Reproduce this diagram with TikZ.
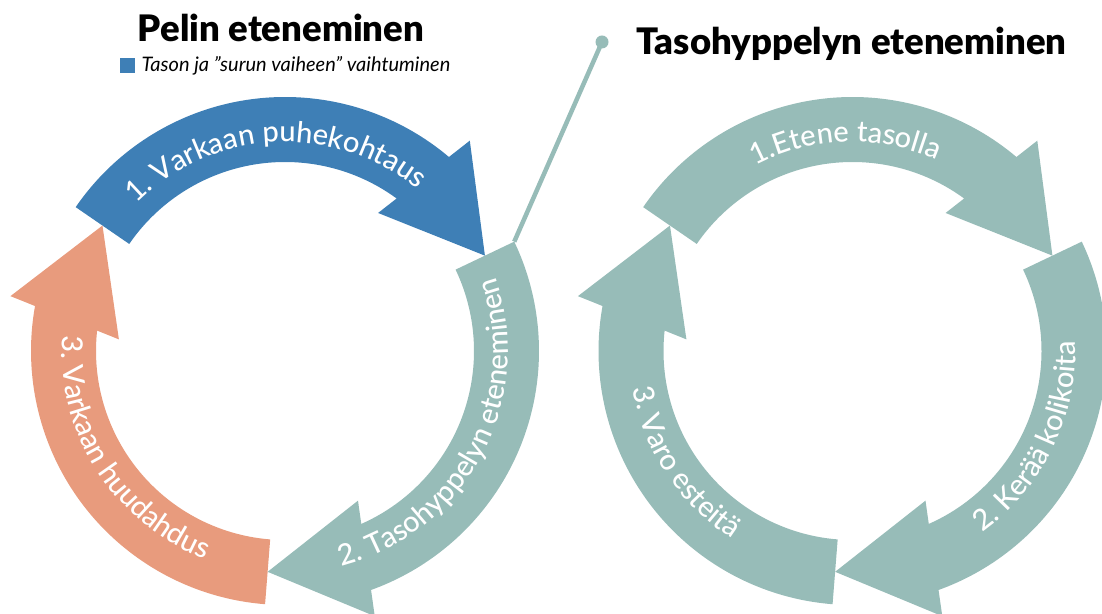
\documentclass[tikz,border=0pt]{standalone}
\usepackage{fontspec}
\setmainfont{Lato}
\newfontfamily\titlefont{Lato Black}
\newfontfamily\bandfont{Lato Medium}
\usetikzlibrary{positioning,decorations.text}

\definecolor{stepblue}{HTML}{3E7FB6}
\definecolor{stepteal}{HTML}{97BCB8}
\definecolor{stepsalmon}{HTML}{E89B7D}

\tikzset{
  bandtext/.style={decorate, decoration={text along path, text align=center,
      text color=white, text={|\bandfont\fontsize{29}{31}\selectfont|#1}}},
  titletext/.style={anchor=base, font=\titlefont\fontsize{36.5}{40}\selectfont},
}

\begin{document}
\begin{tikzpicture}[x=1pt, y=1pt]
\useasboundingbox (0,0) rectangle (1102,613);
\clip (0,0) rectangle (1102,613);

\node[titletext] (title1) at (281,571) {Pelin eteneminen};
\node[titletext] (title2) at (851.5,558) {Tasohyppelyn eteneminen};

\node[fill=stepblue, minimum size=15pt, inner sep=0pt] (key) at (127.5,547) {};
\node[right=3pt of key, font=\itshape\fontsize{20}{22}\selectfont] (keytext) {Tason ja ”surun vaiheen” vaihtuminen};

% left cycle
\begin{scope}[shift={(285,262)}]
\foreach \t/\col in {25.5/stepblue, -94.5/stepteal, 145.5/stepsalmon}
  \fill[\col] ({\t+120}:254) arc[start angle={\t+120}, end angle={\t+24.3}, radius=254pt]
    -- ({\t+23.2}:280) -- (\t:221.5) -- ({\t+30.5}:166.5) -- ({\t+28.3}:189)
    arc[start angle={\t+28.3}, end angle={\t+120}, radius=189pt] -- cycle;
\coordinate (tail2) at (25.5:254);
\path[bandtext={1. Varkaan puhekohtaus}] (163:209) arc[start angle=163, end angle=23, radius=209pt];
\path[bandtext={2. Tasohyppelyn eteneminen}] (-98:223) arc[start angle=-98, end angle=42, radius=223pt];
\path[bandtext={3. Varkaan huudahdus}] (142.5:223) arc[start angle=142.5, end angle=282.5, radius=223pt];
\end{scope}

% right cycle
\begin{scope}[shift={(852.5,262)}]
\foreach \t in {25.5, -94.5, 145.5}
  \fill[stepteal] ({\t+120}:254) arc[start angle={\t+120}, end angle={\t+24.3}, radius=254pt]
    -- ({\t+23.2}:280) -- (\t:221.5) -- ({\t+30.5}:166.5) -- ({\t+28.3}:189)
    arc[start angle={\t+28.3}, end angle={\t+120}, radius=189pt] -- cycle;
\path[bandtext={1.Etene tasolla}] (162:209) arc[start angle=162, end angle=22, radius=209pt];
\path[bandtext={2. Kerää kolikoita}] (-96:223) arc[start angle=-96, end angle=44, radius=223pt];
\path[bandtext={3. Varo esteitä}] (143.5:223) arc[start angle=143.5, end angle=283.5, radius=223pt];
\end{scope}

% link to the platform cycle
\node[circle, fill=stepteal, minimum size=13pt, inner sep=0pt] (dot) at (602,571) {};
\draw[stepteal, line width=4.5pt] (dot.center) -- (tail2);
\end{tikzpicture}
\end{document}
